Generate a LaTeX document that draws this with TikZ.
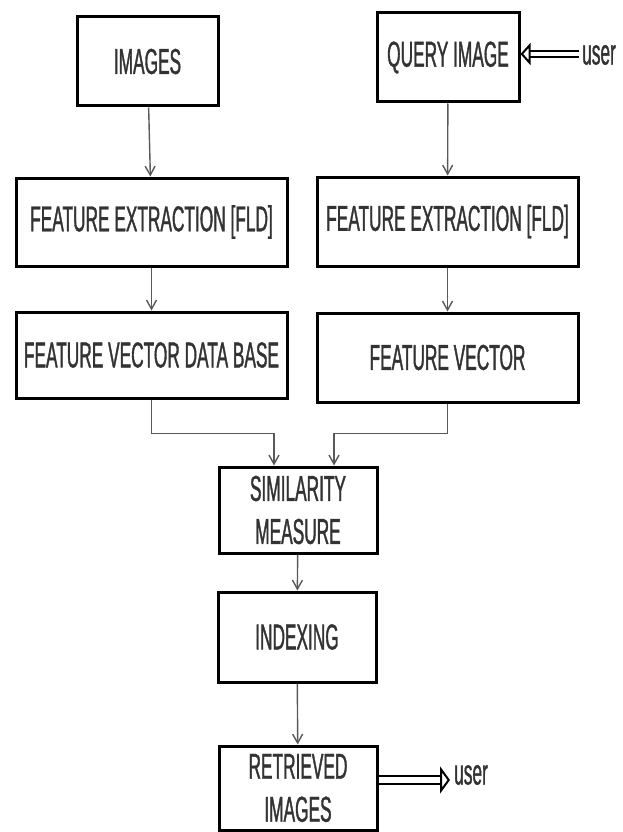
\documentclass[tikz,border=0pt]{standalone}
\usepackage{fontspec}
\setmainfont[FakeStretch=0.48,FakeBold=1]{Liberation Sans}
\usetikzlibrary{arrows.meta}

\tikzset{
  blk/.style={draw=black, line width=3pt, rectangle, inner sep=0pt,
    text=black!80, font=\fontsize{36}{43}\selectfont, align=center},
  lnk/.style={draw=black!65, line width=1.4pt},
  usrarrow/.style 2 args={double, double distance=#1, line width=2.2pt,
    -{Triangle[open, length=10pt, width=#2, line width=2pt]}},
  usrtext/.style={text=black!80, font=\fontsize{36}{43}\selectfont, inner sep=0pt}
}

\begin{document}
\begin{tikzpicture}[x=1pt, y=-1pt, >={Straight Barb[length=9pt,width=10pt]}]
                    \useasboundingbox (0,0) rectangle (622,832);

                    % left column
                    \node[blk, minimum width=141pt, minimum height=89pt] (images) at (147.5,61.5) {IMAGES};
                    \node[blk, minimum width=271pt, minimum height=88pt] (fe1) at (151.5,222) {FEATURE EXTRACTION [FLD]};
                    \node[blk, minimum width=271pt, minimum height=86pt] (fvdb) at (151.5,355) {FEATURE VECTOR DATA BASE};

                    % right column
                    \node[blk, minimum width=142pt, minimum height=89pt] (query) at (448,57.5) {QUERY IMAGE};
                    \node[blk, minimum width=261pt, minimum height=89pt] (fe2) at (447.5,221.5) {FEATURE EXTRACTION [FLD]};
                    \node[blk, minimum width=261pt, minimum height=89pt] (fv) at (447.5,357.5) {FEATURE VECTOR};

                    % middle column
                    \node[blk, minimum width=158pt, minimum height=86pt] (sim) at (298,510) {SIMILARITY\\MEASURE};
                    \node[blk, minimum width=158pt, minimum height=90pt] (idx) at (297,637) {INDEXING};
                    \node[blk, minimum width=158pt, minimum height=84pt] (ret) at (298,788) {RETRIEVED\\IMAGES};

                    \node[usrtext, anchor=west] (usr1) at (582,55) {user};
                    \node[usrtext, anchor=west] (usr2) at (454,775) {user};

                    \draw[lnk, ->] (images) -- (fe1);
                    \draw[lnk, ->] (fe1) -- (fvdb);
                    \draw[lnk, ->] (query) -- (fe2);
                    \draw[lnk, ->] (fe2) -- (fv);
                    \draw[lnk, ->] (fvdb.south) -- ++(0,34) -| ([xshift=-24pt]sim.north);
                    \draw[lnk, ->] (fv.south) -- ++(0,30) -| ([xshift=36pt]sim.north);
                    \draw[lnk, ->] (sim) -- (idx);
                    \draw[lnk, ->] (idx) -- (ret);

                    \draw[usrarrow={4pt}{22pt}] ([xshift=-3pt,yshift=1pt]usr1.west) -- ([yshift=1pt]usr1.west -| query.east);
                    \draw[usrarrow={6pt}{27pt}] ([yshift=-5pt]usr2.west -| ret.east) -- ([xshift=-4pt,yshift=-5pt]usr2.west);
                \end{tikzpicture}
\end{document}
